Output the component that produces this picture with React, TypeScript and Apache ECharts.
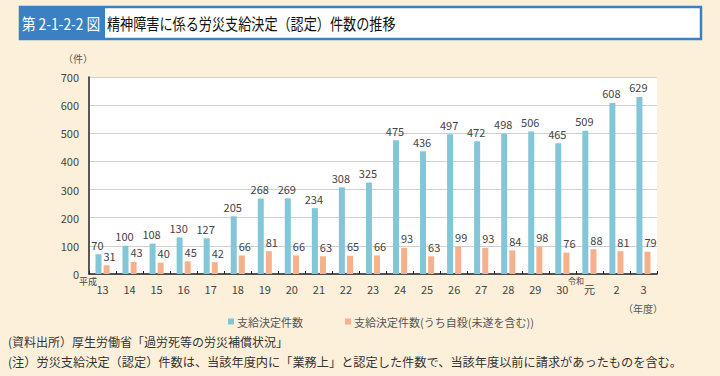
import React, { useEffect, useRef } from "react";
import * as echarts from "echarts";

const categories = ["13", "14", "15", "16", "17", "18", "19", "20", "21", "22", "23", "24", "25", "26", "27", "28", "29", "30", "元", "2", "3"];
const totalDecisions = [70, 100, 108, 130, 127, 205, 268, 269, 234, 308, 325, 475, 436, 497, 472, 498, 506, 465, 509, 608, 629];
const suicideDecisions = [31, 43, 40, 45, 42, 66, 81, 66, 63, 65, 66, 93, 63, 99, 93, 84, 98, 76, 88, 81, 79];
const seriesNames = ["支給決定件数", "支給決定件数(うち自殺(未遂を含む))"];

const FONT = "'Noto Sans CJK JP', 'Noto Sans', sans-serif";

export default function App() {
  const ref = useRef<HTMLDivElement>(null);
  useEffect(() => {
    if (!ref.current) return;
    const chart = echarts.init(ref.current, null, { renderer: "svg" });
    const titleText = "精神障害に係る労災支給決定（認定）件数の推移";
    chart.setOption({
      animation: false,
      backgroundColor: "#FDF0DA",
      textStyle: { fontFamily: FONT },
      grid: { left: 89, right: 63, top: 77, bottom: 102, show: true, backgroundColor: "#ffffff", borderWidth: 0 },
      xAxis: {
        type: "category",
        data: categories,
        axisLine: { show: true, lineStyle: { color: "#222", width: 1.5 } },
        axisTick: { show: true, inside: true, length: 3, interval: 0, lineStyle: { color: "#222" } },
        axisLabel: { fontSize: 11, color: "#444", margin: 9, fontFamily: FONT },
      },
      yAxis: {
        type: "value",
        min: 0,
        max: 700,
        interval: 100,
        axisLine: { show: true, lineStyle: { color: "#222", width: 1.5 } },
        axisTick: { show: false },
        axisLabel: { fontSize: 11, color: "#444", margin: 10, fontFamily: FONT },
        splitLine: { lineStyle: { color: "#CFCFCF", width: 1 } },
      },
      legend: {
        left: 223,
        top: 311,
        itemWidth: 6,
        itemHeight: 6,
        itemGap: 42,
        icon: "rect",
        textStyle: { fontSize: 11, color: "#555", fontFamily: FONT, padding: [0, 0, 0, -2] },
        data: seriesNames,
      },
      series: [
        {
          name: seriesNames[0],
          type: "bar",
          data: totalDecisions,
          barWidth: 6,
          barGap: "35%",
          itemStyle: { color: "#82C6D7" },
          label: { show: true, position: "top", distance: 4, offset: [-1, 0], fontSize: 11, color: "#444", fontFamily: FONT },
        },
        {
          name: seriesNames[1],
          type: "bar",
          data: suicideDecisions,
          barWidth: 6,
          barGap: "35%",
          itemStyle: { color: "#F6B18B" },
          label: { show: true, position: "top", distance: 4, offset: [3, 0], fontSize: 11, color: "#444", fontFamily: FONT },
        },
      ],
      graphic: [
        { type: "rect", shape: { x: 20, y: 7, width: 681, height: 32 }, style: { fill: "#ffffff", stroke: "#3A80C3", lineWidth: 2.5 } },
        { type: "rect", shape: { x: 19, y: 6, width: 86, height: 34 }, style: { fill: "#3A80C3" } },
        { type: "text", x: 61, y: 23, scaleX: 0.86, style: { text: "第 2-1-2-2 図", fill: "#ffffff", fontSize: 16, fontFamily: FONT, align: "center", verticalAlign: "middle" } },
        { type: "text", x: 107, y: 23, scaleX: 0.82, style: { text: titleText, fill: "#111", fontSize: 16, fontFamily: FONT, verticalAlign: "middle" } },
        { type: "text", x: 78, y: 58, style: { text: "（件）", fill: "#555", fontSize: 10, fontFamily: FONT, align: "center", verticalAlign: "middle" } },
        { type: "text", x: 88, y: 281, style: { text: "平成", fill: "#444", fontSize: 9, fontFamily: FONT, align: "center", verticalAlign: "middle" } },
        { type: "text", x: 576, y: 280, style: { text: "令和", fill: "#444", fontSize: 8, fontFamily: FONT, align: "center", verticalAlign: "middle" } },
        { type: "text", x: 643, y: 308, style: { text: "（年度）", fill: "#555", fontSize: 10, fontFamily: FONT, align: "center", verticalAlign: "middle" } },
        { type: "text", x: 8, y: 341, style: { text: "(資料出所）厚生労働省「過労死等の労災補償状況」", fill: "#333", fontSize: 12, fontFamily: FONT, verticalAlign: "middle" } },
        { type: "text", x: 8, y: 362, style: { text: "(注）労災支給決定（認定）件数は、当該年度内に「業務上」と認定した件数で、当該年度以前に請求があったものを含む。", fill: "#333", fontSize: 12.2, fontFamily: FONT, verticalAlign: "middle" } },
      ],
    });
    return () => chart.dispose();
  }, []);
  return <div ref={ref} style={{ position: "fixed", left: 0, top: 0, width: 720, height: 376 }} />;
}
